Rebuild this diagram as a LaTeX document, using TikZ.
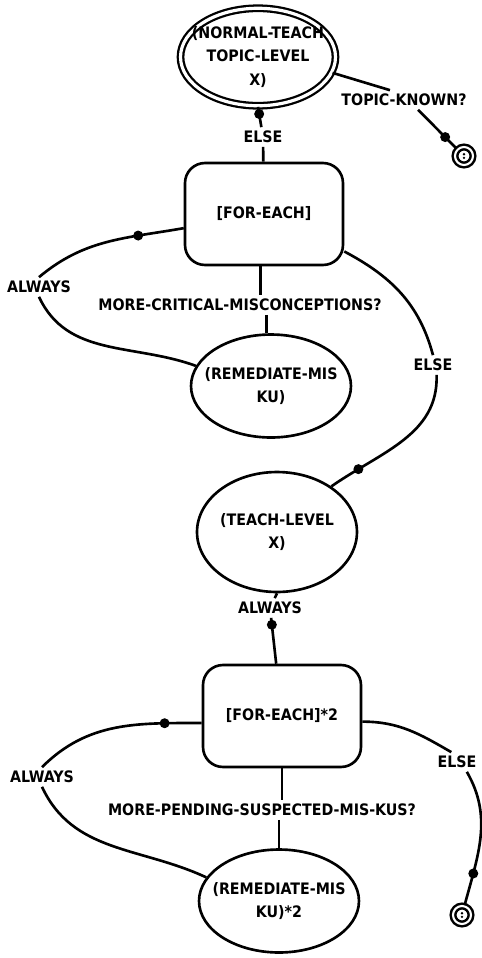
\documentclass[tikz,border=0pt]{standalone}
\usepackage{fontspec}
\setmainfont{DejaVu Sans Condensed}
\usetikzlibrary{shapes.geometric}

\begin{document}
\begin{tikzpicture}[x=0.02cm, y=-0.02cm,
            every node/.style={font=\fontsize{9}{13.5}\selectfont\bfseries},
            state/.style={shape=ellipse, draw=black, line width=1.5pt, minimum width=3.2cm, minimum height=2.06cm, inner sep=0pt},
            startstate/.style={state, line width=1.3pt, double, double distance=1.8pt, minimum width=3.1cm, minimum height=1.95cm},
            loopbox/.style={shape=rectangle, rounded corners=0.4cm, draw=black, line width=1.5pt, minimum width=3.16cm, minimum height=2.04cm},
            cond/.style={inner sep=2pt},
            statetext/.style={align=center},
            dot/.style={shape=circle, fill=black, inner sep=0pt, minimum size=0.2cm},
            stop/.style={shape=circle, draw=black, line width=1.4pt, double, double distance=1.2pt, minimum size=0.36cm, inner sep=0pt},
            link/.style={line width=1.5pt}]
            \useasboundingbox (0,0) rectangle (482,958);

            % states and loops
            \node[startstate, label={[statetext]center:(NORMAL-TEACH\\TOPIC-LEVEL\\X)}] (nt) at (258,57) {};
            \node[loopbox] (fe1) at (264,214) {[FOR-EACH]};
            \node[state, label={[statetext]center:(REMEDIATE-MIS\\KU)}] (rm1) at (271,386) {};
            \node[state, minimum height=2.4cm, label={[statetext]center:(TEACH-LEVEL\\X)}] (tl) at (277,532) {};
            \node[loopbox] (fe2) at (282,716) {[FOR-EACH]*2};
            \node[state, label={[statetext]center:(REMEDIATE-MIS\\KU)*2}] (rm2) at (279,901) {};
            \node[stop] (stop1) at (464,156) {};
            \node[stop] (stop2) at (462,915) {};

            % conditions
            \node[cond] (else1) at (263,137) {ELSE};
            \node[cond] (tk) at (404,100) {TOPIC-KNOWN?};
            \node[cond] (alw1) at (39,287) {ALWAYS};
            \node[cond] (mcm) at (240,305) {MORE-CRITICAL-MISCONCEPTIONS?};
            \node[cond] (else2) at (433,365) {ELSE};
            \node[cond] (alw2) at (270,608) {ALWAYS};
            \node[cond] (alw3) at (42,777) {ALWAYS};
            \node[cond] (mps) at (262,810) {MORE-PENDING-SUSPECTED-MIS-KUS?};
            \node[cond] (else3) at (457,762) {ELSE};

            \fill (stop1) ++(0,-1.8) circle (1.3) (stop1) ++(0,1.8) circle (1.3);
            \fill (stop2) ++(0,-1.8) circle (1.3) (stop2) ++(0,1.8) circle (1.3);

            % top state
            \path [link] (nt.south) edge node[dot, pos=0.35] (d1) {} (else1);
            \path [link] (else1) edge (fe1);
            \path [link] (nt.-12) edge (tk.145);
            \path [link] (tk.-35) edge node[dot, pos=0.7] (d2) {} (stop1);

            % first loop
            \path [link] (fe1.190) edge[out=190, in=40] node[dot, pos=0.28] (d3) {} (alw1.north);
            \path [link] (alw1.south) edge[out=-65, in=160] (rm1.165);
            \path [link] (fe1.266) edge (fe1.266 |- mcm.north);
            \path [link] (rm1.95 |- mcm.south) edge (rm1.95);
            \path [link] (fe1.-25) edge[out=-28, in=105] (else2.north);
            \path [link] (else2.-70) edge[out=-88, in=35] node[dot, pos=0.82] (d4) {} (tl.40);

            % second loop
            \path [link] (tl.south) edge (alw2);
            \path [link] (alw2) edge node[dot, pos=0.15] (d5) {} (fe2);
            \path [link] (fe2.185) edge[out=180, in=45] node[dot, pos=0.2] (d6) {} (alw3.north);
            \path [link] (alw3.south) edge[out=-65, in=155] (rm2.162);
            \path [link] (fe2.south) edge (fe2.south |- mps.north);
            \path [link] (rm2.north |- mps.south) edge (rm2.north);
            \path [link] (fe2.-4) edge[out=0, in=150] (else3.120);
            \path [link] (else3.-45) edge[out=-60, in=75] node[dot, pos=0.78] (d7) {} (stop2);
        \end{tikzpicture}
\end{document}
